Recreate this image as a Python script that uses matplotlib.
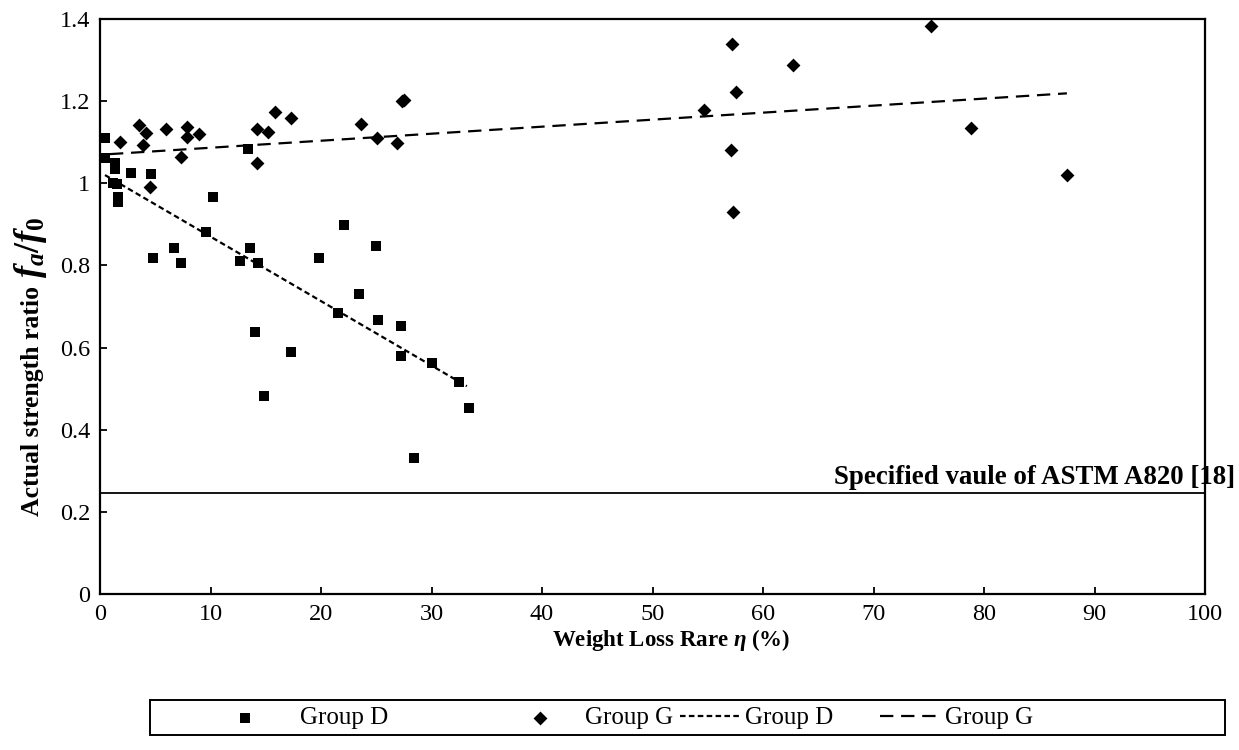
import numpy as np
import matplotlib
matplotlib.use("Agg")
import matplotlib.pyplot as plt
from matplotlib.patches import Rectangle

plt.rcParams['font.family'] = ['Liberation Serif', 'DejaVu Serif']
plt.rcParams['mathtext.fontset'] = 'custom'
plt.rcParams['mathtext.rm'] = 'Liberation Serif:weight=bold'
plt.rcParams['mathtext.it'] = 'Liberation Serif:style=italic:weight=bold'
plt.rcParams['mathtext.bf'] = 'Liberation Serif:weight=bold'

#> Data
groupD_x = [0.45, 0.45, 1.4, 1.36, 1.2, 1.5, 1.65, 1.65, 2.8, 4.6, 4.8, 6.7, 7.3, 9.6,
            10.25, 12.7, 13.4, 13.6, 14.3, 14.05, 14.8, 17.3, 19.8, 22.1, 21.5, 23.4,
            25.0, 25.2, 27.2, 27.2, 28.4, 30.0, 32.5, 33.4]
groupD_y = [1.110, 1.062, 1.050, 1.034, 1.000, 0.998, 0.967, 0.955, 1.024, 1.022, 0.817,
            0.842, 0.805, 0.882, 0.967, 0.811, 1.084, 0.842, 0.805, 0.637, 0.482, 0.589,
            0.817, 0.898, 0.684, 0.730, 0.847, 0.667, 0.652, 0.579, 0.330, 0.562, 0.515,
            0.454]

groupG_x = [1.8, 3.5, 4.2, 3.9, 4.5, 6.0, 7.9, 7.9, 9.0, 7.3, 14.2, 15.2, 15.8, 17.3,
            14.2, 23.6, 25.1, 26.9, 27.3, 27.5, 57.2, 62.7, 57.6, 54.7, 57.1, 57.3,
            75.2, 78.8, 87.5]
groupG_y = [1.101, 1.142, 1.123, 1.093, 0.990, 1.131, 1.138, 1.112, 1.119, 1.065, 1.131,
            1.126, 1.173, 1.158, 1.049, 1.144, 1.110, 1.099, 1.200, 1.202, 1.340, 1.287,
            1.222, 1.178, 1.082, 0.930, 1.384, 1.135, 1.020]

# trend lines (end points)
trendD_x = [0.45, 33.2]
trendD_y = [1.020, 0.506]
trendG_x = [0.9, 87.5]
trendG_y = [1.071, 1.219]

astmValue = 0.246
astmLabel = 'Specified vaule of ASTM A820 [18]'

xTicks = np.arange(0, 101, 10)
yTicks = [0, 0.2, 0.4, 0.6, 0.8, 1.0, 1.2, 1.4]
yTickLabels = ['0', '0.2', '0.4', '0.6', '0.8', '1', '1.2', '1.4']

#> Plot
W, H = 1239, 750
fig = plt.figure(figsize=(W / 100, H / 100), dpi=100)
ax = fig.add_axes([100 / W, 1 - 594 / H, 1105 / W, 575 / H])

sD = ax.scatter(groupD_x, groupD_y, marker='s', s=60, color='black', linewidths=0, zorder=3)
sG = ax.scatter(groupG_x, groupG_y, marker='D', s=50, color='black', linewidths=0, zorder=3)
lD, = ax.plot(trendD_x, trendD_y, color='black', linewidth=1.6, dashes=(2.5, 1.5), zorder=2)
lG, = ax.plot(trendG_x, trendG_y, color='black', linewidth=1.6, dashes=(6, 3.5), zorder=2)

ax.axhline(astmValue, color='black', linewidth=1.3, zorder=1)
ax.text(102.7, astmValue + 0.008, astmLabel, ha='right', va='bottom', fontsize=19.4,
        fontweight='bold', clip_on=False)

ax.set_xlim(0, 100)
ax.set_ylim(0, 1.4)
ax.set_xticks(xTicks)
ax.set_xticklabels([str(t) for t in xTicks])
ax.set_yticks(yTicks)
ax.set_yticklabels(yTickLabels)
ax.tick_params(axis='both', direction='in', length=5, width=1.3, labelsize=17.5, pad=7)
for sp in ax.spines.values():
    sp.set_linewidth(1.6)

ax.set_xlabel(r'Weight Loss Rare $\eta$ (%)', fontsize=16.5, fontweight='bold')
ax.xaxis.set_label_coords((671 - 100) / 1105, (594 - 627) / 575)

# y label: plain words plus a larger formula, as in the reference
yWords = fig.text(39 / W, 1 - 516 / H, 'Actual strength ratio ', rotation=90,
                  rotation_mode='anchor', ha='left', va='baseline', fontsize=18.5,
                  fontweight='bold')
fig.canvas.draw()
wordsTop = yWords.get_window_extent().y1
fig.text(39 / W, (wordsTop + 2) / H, r'$f_a/f_0$', rotation=90, rotation_mode='anchor',
         ha='left', va='baseline', fontsize=26)

#> Legend: a frame plus one entry per column, placed like the reference
fig.add_artist(Rectangle((150 / W, 1 - 735 / H), 1075 / W, 35 / H, transform=fig.transFigure,
                         fill=False, edgecolor='black', linewidth=1.4))
legendItems = [(sD, 'Group D', 215, 1.0), (sG, 'Group G', 510, 0.6),
               (lD, 'Group D', 680, 0.2), (lG, 'Group G', 880, 0.2)]
for handle, label, x0, pad in legendItems:
    leg = fig.legend([handle], [label], loc='center left',
                     bbox_to_anchor=(x0 / W, 1 - 718 / H), fontsize=18, frameon=False,
                     handlelength=2.4, handletextpad=pad, borderpad=0, borderaxespad=0,
                     scatterpoints=1)

fig.savefig('out.png', dpi=100)
